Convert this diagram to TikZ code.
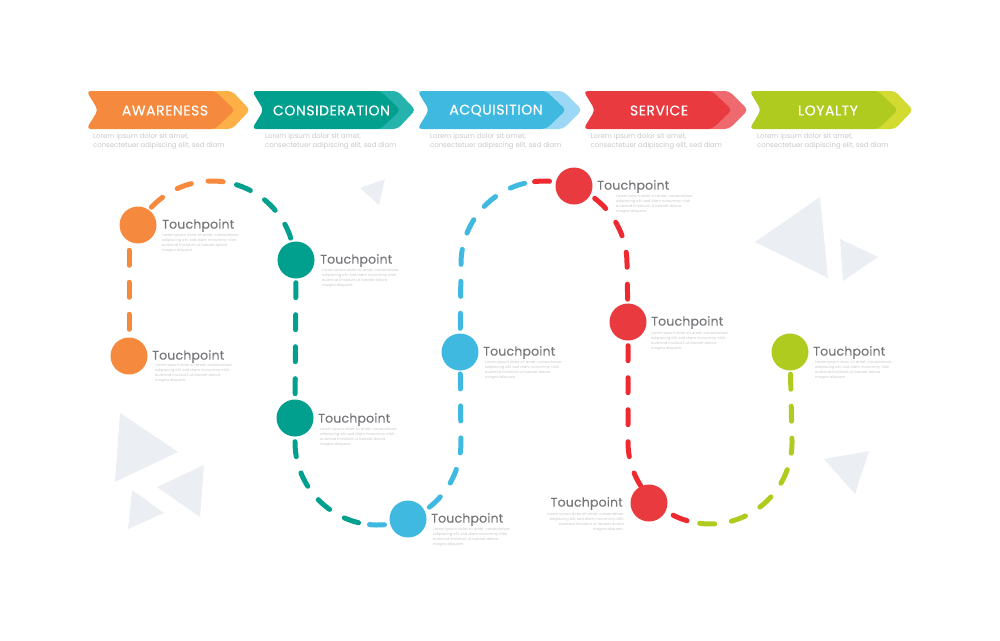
\documentclass[tikz,border=0pt]{standalone}
\usepackage{fontspec}
\setmainfont{Poppins}
\newfontfamily\stagefont[LetterSpace=4,FakeBold=0.4]{Poppins}
\newfontfamily\touchfont[LetterSpace=1.5,FakeBold=0.2]{Poppins}
\usepackage{tikz}
\usetikzlibrary{backgrounds}
\definecolor{awaremain}{HTML}{F58A3F}
\definecolor{awarelight}{HTML}{FDB045}
\definecolor{considermain}{HTML}{019F8D}
\definecolor{considerlight}{HTML}{26B3AE}
\definecolor{acquiremain}{HTML}{3FB9E0}
\definecolor{acquirelight}{HTML}{9CD7F5}
\definecolor{servicemain}{HTML}{E93A40}
\definecolor{servicelight}{HTML}{EE6A6E}
\definecolor{serviceline}{HTML}{EE2A30}
\definecolor{loyaltymain}{HTML}{AFCB1F}
\definecolor{loyaltylight}{HTML}{D3DB33}
\definecolor{shard}{HTML}{EBEEF2}
\definecolor{touchgrey}{HTML}{77777B}
\definecolor{lorem}{HTML}{C6C7CA}
\newcommand{\touchtext}{Lorem ipsum dolor sit amet, consectetuer\\ adipiscing elit, sed diam nonummy nibh\\ euismod tincidunt ut laoreet dolore\\ magna aliquam.}
\tikzset{
  touchnode/.style={circle, inner sep=0pt, minimum size=37pt},
  trail/.style={line width=5pt, line cap=round, dash pattern=on 15pt off 17pt},
  stagefill/.style={rounded corners=4pt},
  stagetitle/.style={text=white, font=\stagefont\fontsize{14}{14}\selectfont},
  stagetext/.style={text=lorem, anchor=north west, inner sep=0pt, align=left, font=\fontsize{6.9}{9}\selectfont},
  touchtitle/.style={text=touchgrey, inner sep=0pt, font=\touchfont\fontsize{12.5}{13}\selectfont},
  touchbody/.style={text=lorem, inner sep=0pt, align=left, font=\fontsize{3.7}{5.3}\selectfont}
}
\begin{document}
\begin{tikzpicture}[x=1pt,y=1pt]
\useasboundingbox (0,0) rectangle (1000,-640);
%%% Draws background triangles
\fill[shard] (385,-179) to (360,-188) to (379,-205) to cycle;
\fill[shard] (820,-197) to (755,-242) to (828,-278) to cycle;
\fill[shard] (840,-239) to (878,-257) to (843,-281) to cycle;
\fill[shard] (120,-413) to (178,-452) to (115,-482) to cycle;
\fill[shard] (204,-465) to (157,-487) to (200,-517) to cycle;
\fill[shard] (132,-490) to (164,-513) to (128,-529) to cycle;
\fill[shard] (824,-459) to (869,-451) to (855,-494) to cycle;
%%% Draws stage arrows
% light tips
\fill[awarelight, stagefill] (215,-91) to (232,-91) to (250,-110) to (232,-129) to (208,-129) to (208,-91) to (215,-91);
\fill[considerlight, stagefill] (380,-91) to (397.5,-91) to (415.5,-110) to (397.5,-129) to (373.5,-129) to (373.5,-91) to (380,-91);
\fill[acquirelight, stagefill] (545,-91) to (563,-91) to (582,-110) to (563,-129) to (539,-129) to (539,-91) to (545,-91);
\fill[servicelight, stagefill] (711,-91) to (729,-91) to (748,-110) to (729,-129) to (705,-129) to (705,-91) to (711,-91);
\fill[loyaltylight, stagefill] (877,-91) to (895,-91) to (913,-110) to (895,-129) to (871,-129) to (871,-91) to (877,-91);
% main bodies
\fill[awaremain, stagefill] (150,-91) to (215,-91) to (235,-110) to (215,-129) to (86.5,-129) to (98,-110) to (86.5,-91) to (150,-91);
\fill[considermain, stagefill] (315,-91) to (380.5,-91) to (400.5,-110) to (380.5,-129) to (252,-129) to (263.5,-110) to (252,-91) to (315,-91);
\fill[acquiremain, stagefill] (480,-91) to (546,-91) to (566,-110) to (546,-129) to (417.5,-129) to (429,-110) to (417.5,-91) to (480,-91);
\fill[servicemain, stagefill] (650,-91) to (712,-91) to (732,-110) to (712,-129) to (583.5,-129) to (595,-110) to (583.5,-91) to (650,-91);
\fill[loyaltymain, stagefill] (815,-91) to (878,-91) to (898,-110) to (878,-129) to (749.5,-129) to (761,-110) to (749.5,-91) to (815,-91);
% stage titles
\node[stagetitle] (awaretitle) at (165,-110.5) {AWARENESS};
\node[stagetitle] (considertitle) at (331.5,-110.5) {CONSIDERATION};
\node[stagetitle] (acquiretitle) at (496,-110.5) {ACQUISITION};
\node[stagetitle] (servicetitle) at (659,-110.5) {SERVICE};
\node[stagetitle] (loyaltytitle) at (828,-110.5) {LOYALTY};
% stage texts
\node[stagetext] (awaretext) at (93,-133.5) {Lorem ipsum dolor sit amet,\\ consectetuer adipiscing elit, sed diam};
\node[stagetext] (considertext) at (265,-133.5) {Lorem ipsum dolor sit amet,\\ consectetuer adipiscing elit, sed diam};
\node[stagetext] (acquiretext) at (430,-133.5) {Lorem ipsum dolor sit amet,\\ consectetuer adipiscing elit, sed diam};
\node[stagetext] (servicetext) at (590.5,-133.5) {Lorem ipsum dolor sit amet,\\ consectetuer adipiscing elit, sed diam};
\node[stagetext] (loyaltytext) at (757,-133.5) {Lorem ipsum dolor sit amet,\\ consectetuer adipiscing elit, sed diam};
%%% Draws touchpoints
% draws vertices
\node[touchnode, fill=awaremain] (aware1) at (129,-356) {};
\node[touchnode, fill=awaremain] (aware2) at (138,-225) {};
\node[touchnode, fill=considermain] (consider1) at (296,-260) {};
\node[touchnode, fill=considermain] (consider2) at (295,-418) {};
\node[touchnode, fill=acquiremain] (acquire1) at (408,-519) {};
\node[touchnode, fill=acquiremain] (acquire2) at (460,-352) {};
\node[touchnode, fill=servicemain] (service1) at (574,-186) {};
\node[touchnode, fill=servicemain] (service2) at (628,-322) {};
\node[touchnode, fill=servicemain] (service3) at (649,-503) {};
\node[touchnode, fill=loyaltymain] (loyalty1) at (790,-352) {};
% free ends along the road
\coordinate (awarerise) at (129,-247);
\coordinate (awarebend) at (140.1,-222.5);
\coordinate (awareturn) at (226.4,-182.3);
\coordinate (considerturn) at (365,-524);
\coordinate (acquireturn) at (529.6,-182.3);
\coordinate (servicebend) at (659.5,-506.6);
\coordinate (serviceturn) at (697.2,-523);
% draws edges
\begin{scope}[on background layer]
\draw[trail, awaremain, dash phase=24pt] (aware1) -- (awarerise);
\draw[trail, awaremain, dash phase=13pt] (awarebend) arc (150:80:83pt);
\draw[trail, considermain, dash phase=21.6pt] (awareturn) arc (80:20:83pt) -- (consider1);
\draw[trail, considermain, dash phase=28pt] (consider1) -- (consider2);
\draw[trail, considermain, dash phase=27pt] (consider2) -- (295,-442) arc (180:261:83pt);
\draw[trail, acquiremain, dash phase=27.5pt] (considerturn) arc (261:360:83pt) -- (acquire2);
\draw[trail, acquiremain, dash phase=27pt] (acquire2) -- (461,-264) arc (180:100:83pt);
\draw[trail, serviceline, dash phase=27pt] (acquireturn) arc (100:0:83pt) -- (service2);
\draw[trail, serviceline, dash phase=27pt] (service2) -- (628,-442) arc (180:225:82pt);
\draw[trail, serviceline, dash phase=15.9pt] (servicebend) arc (232:261:82pt);
\draw[trail, loyaltymain, dash phase=29.5pt] (serviceturn) arc (261:360:82pt) -- (loyalty1);
\end{scope}
% labels vertices
\node[touchtitle, anchor=west] (aware1title) at (152,-356.5) {Touchpoint};
\node[touchtitle, anchor=west] (aware2title) at (162,-225.5) {Touchpoint};
\node[touchtitle, anchor=west] (consider1title) at (320,-260.5) {Touchpoint};
\node[touchtitle, anchor=west] (consider2title) at (318,-419.5) {Touchpoint};
\node[touchtitle, anchor=west] (acquire1title) at (431,-519.5) {Touchpoint};
\node[touchtitle, anchor=west] (acquire2title) at (483,-352.5) {Touchpoint};
\node[touchtitle, anchor=west] (service1title) at (597,-186.5) {Touchpoint};
\node[touchtitle, anchor=west] (service2title) at (651,-322.5) {Touchpoint};
\node[touchtitle, anchor=east] (service3title) at (623,-503.5) {Touchpoint};
\node[touchtitle, anchor=west] (loyalty1title) at (813,-352.5) {Touchpoint};
% small texts
\node[touchbody, anchor=north west] (aware1body) at (155,-363) {\touchtext};
\node[touchbody, anchor=north west] (aware2body) at (162,-233) {\touchtext};
\node[touchbody, anchor=north west] (consider1body) at (322,-268) {\touchtext};
\node[touchbody, anchor=north west] (consider2body) at (320,-427) {\touchtext};
\node[touchbody, anchor=north west] (acquire1body) at (433,-527) {\touchtext};
\node[touchbody, anchor=north west] (acquire2body) at (485,-360) {\touchtext};
\node[touchbody, anchor=north west] (service1body) at (616,-194) {\touchtext};
\node[touchbody, anchor=north west] (service2body) at (651,-331) {\touchtext};
\node[touchbody, anchor=north east, align=right] (service3body) at (624,-512) {\touchtext};
\node[touchbody, anchor=north west] (loyalty1body) at (815,-360) {\touchtext};
\end{tikzpicture}
\end{document}
